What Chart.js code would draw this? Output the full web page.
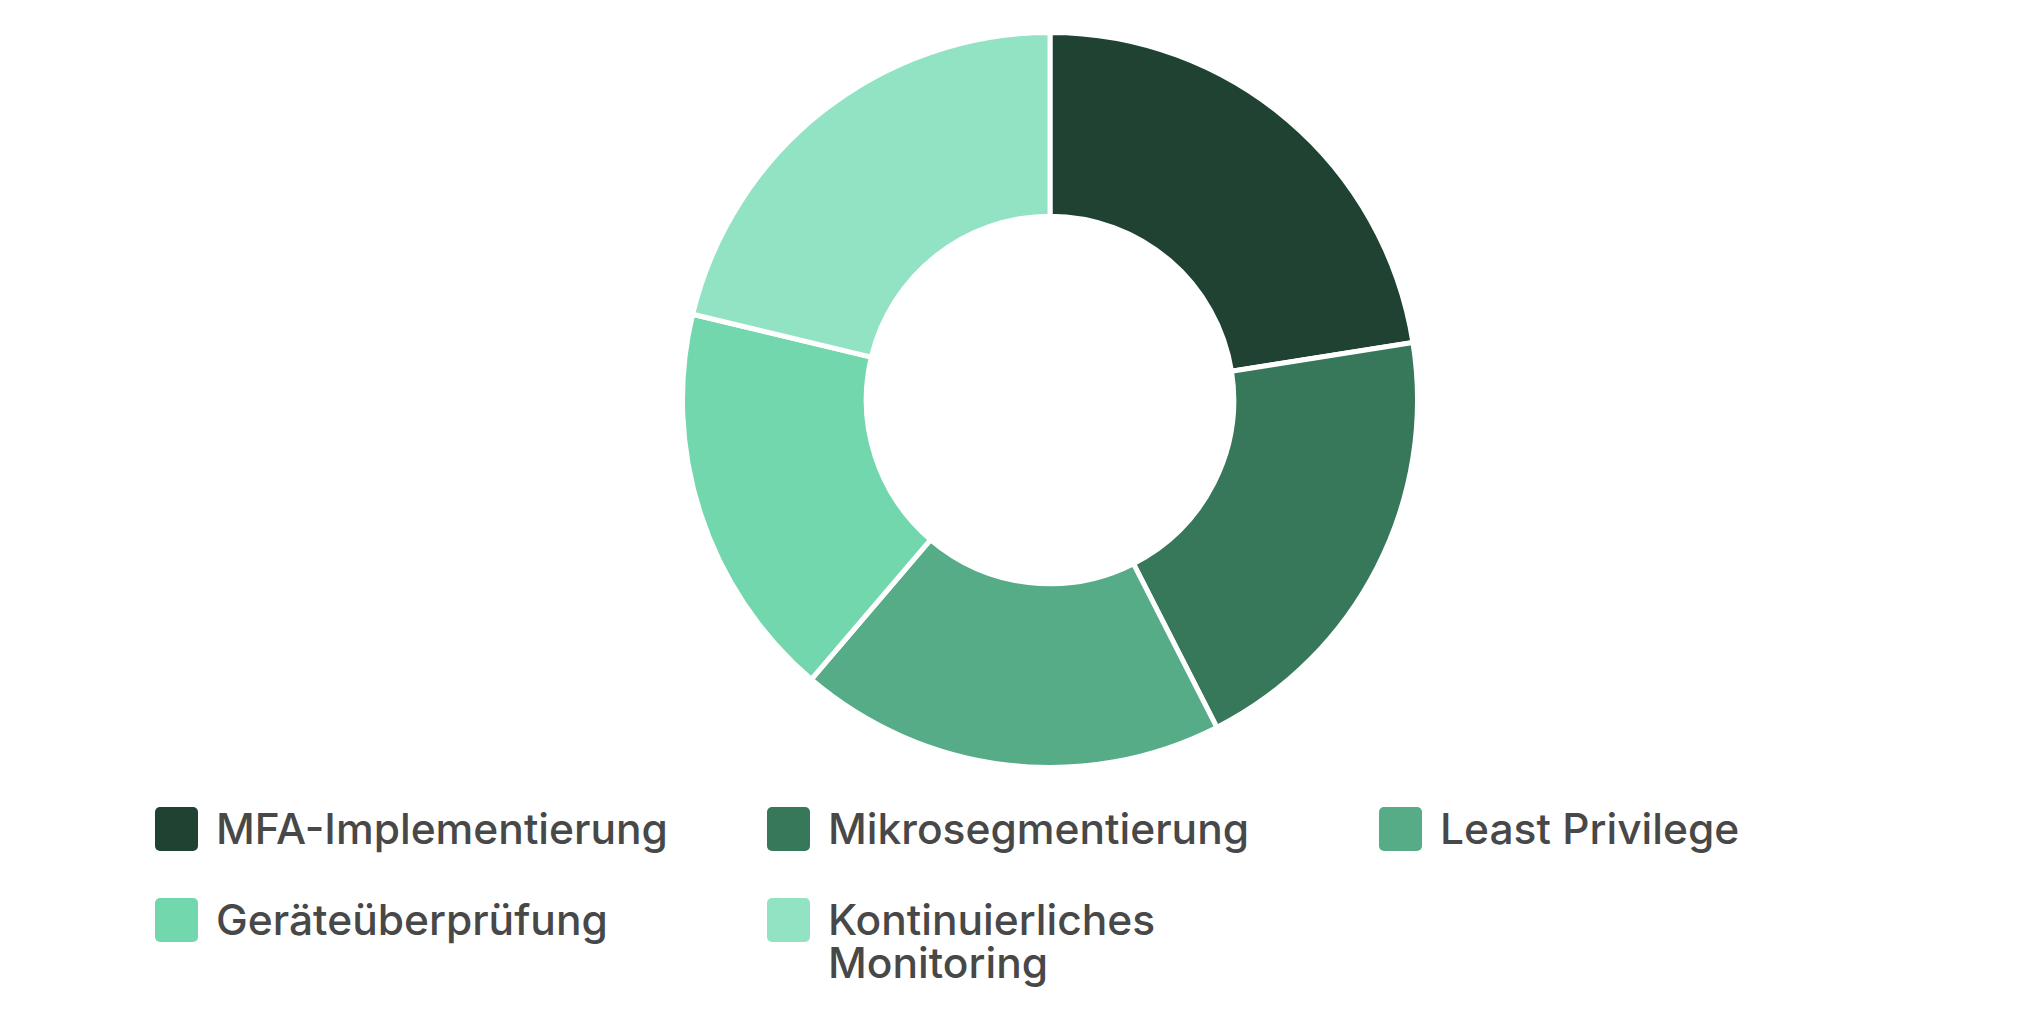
<!DOCTYPE html>
<html lang="de">
<head>
<meta charset="utf-8">
<title>Zero Trust Komponenten</title>
<script src="https://cdn.jsdelivr.net/npm/chart.js@4.4.1/dist/chart.umd.min.js"></script>
<style>
    html, body {
        margin: 0;
        padding: 0;
        background: #ffffff;
        width: 2024px;
        height: 1022px;
        overflow: hidden;
        font-family: Inter, "Noto Sans", sans-serif;
    }
    .chart-box {
        position: absolute;
        left: 680px;
        top: 30px;
        width: 740px;
        height: 740px;
    }
    .legend {
        position: absolute;
        left: 155px;
        top: 807px;
        display: grid;
        grid-template-columns: repeat(3, 560px);
        column-gap: 52px;
        row-gap: 47px;
    }
    .legend-item {
        display: flex;
        align-items: flex-start;
    }
    .legend-swatch {
        flex: 0 0 43px;
        width: 43px;
        height: 44px;
        border-radius: 5px;
        margin-right: 18px;
    }
    .legend-text {
        font-size: 42.5px;
        font-weight: 500;
        line-height: 43px;
        color: #484848;
        max-width: 470px;
    }
</style>
</head>
<body>
<div class="chart-box"><canvas id="ztChart"></canvas></div>
<div class="legend" id="ztLegend"></div>

<script>
// Anteile der Zero-Trust-Massnahmen
const categories = ['MFA-Implementierung', 'Mikrosegmentierung', 'Least Privilege', 'Geräteüberprüfung', 'Kontinuierliches Monitoring'];
const values = [90, 80, 75, 70, 85];
const sliceColors = ['#1f4232', '#37785b', '#55ac87', '#72d7ad', '#91e3c4'];

const ctx = document.getElementById('ztChart').getContext('2d');
const chart = new Chart(ctx, {
    type: 'doughnut',
    data: {
        labels: categories,
        datasets: [{
            data: values,
            backgroundColor: sliceColors,
            borderColor: '#ffffff',
            borderWidth: 5
        }]
    },
    options: {
        responsive: true,
        maintainAspectRatio: false,
        animation: false,
        cutout: '50%',
        plugins: {
            legend: { display: false },
            tooltip: { enabled: false }
        }
    }
});

// HTML legend built from the chart's own labels
const legendEl = document.getElementById('ztLegend');
chart.options.plugins.legend.labels.generateLabels(chart).forEach(item => {
    const row = document.createElement('div');
    row.className = 'legend-item';
    row.innerHTML = `
        <span class="legend-swatch" style="background:${item.fillStyle}"></span>
        <span class="legend-text">${item.text}</span>
    `;
    legendEl.appendChild(row);
});
</script>
</body>
</html>
